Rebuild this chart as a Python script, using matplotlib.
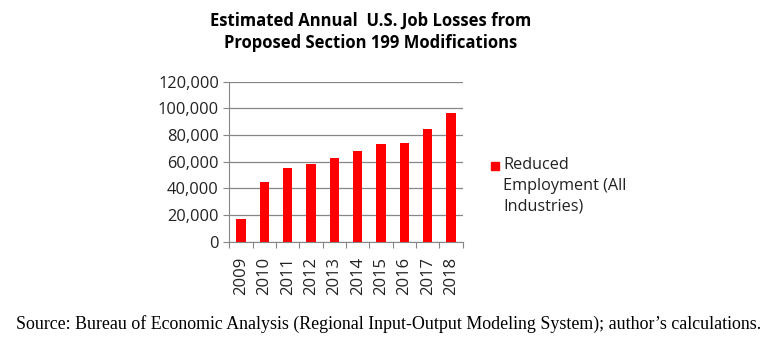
import matplotlib
matplotlib.use("Agg")
import matplotlib.pyplot as plt
from matplotlib.ticker import FuncFormatter, MultipleLocator

years = ["2009", "2010", "2011", "2012", "2013", "2014", "2015", "2016", "2017", "2018"]
job_losses = [17000, 44800, 55000, 58500, 63000, 68200, 73200, 74000, 84500, 96700]
series_name = "Reduced\nEmployment (All\nIndustries)"

fig = plt.figure(figsize=(7.78, 3.62), dpi=100)
ax = fig.add_axes([0.2947, 0.3323, 0.300, 0.442])

x = range(len(years))
ax.bar(x, job_losses, width=0.4, color="#ff0000", zorder=3)

ax.set_xlim(-0.5, len(years) - 0.5)
ax.set_ylim(0, 120000)
ax.yaxis.set_major_locator(MultipleLocator(20000))
ax.yaxis.set_major_formatter(FuncFormatter(lambda v, p: f"{int(v):,}"))
ax.grid(axis="y", color="#868686", linewidth=0.9, zorder=0)

# category ticks sit on the boundaries, labels in the middle
ax.set_xticks([i - 0.5 for i in range(len(years) + 1)])
ax.set_xticklabels([])
ax.set_xticks(list(x), minor=True)
ax.set_xticklabels(years, minor=True, rotation=90, fontsize=12,
                   family=["Open Sans", "DejaVu Sans"], color="#222222")
ax.tick_params(axis="x", which="major", length=4.5, color="#868686", direction="out")
ax.tick_params(axis="x", which="minor", length=0, pad=11)
ax.tick_params(axis="y", length=4, color="#868686", labelsize=11.8, labelcolor="#222222")
for lab in ax.get_yticklabels():
    lab.set_family(["Open Sans", "DejaVu Sans"])

for s in ["top", "right"]:
    ax.spines[s].set_visible(False)
for s in ["left", "bottom"]:
    ax.spines[s].set_color("#868686")

fig.text(0.476, 1 - 12 / 362, "Estimated Annual  U.S. Job Losses from\nProposed Section 199 Modifications",
         ha="center", va="top", fontsize=12, fontweight="bold",
         family=["Open Sans", "DejaVu Sans"], linespacing=1.3)

# legend
fig.patches.append(plt.Rectangle((491 / 778, 1 - 170 / 362), 8 / 778, 8 / 362,
                                 transform=fig.transFigure, color="#ff0000"))
fig.text(503 / 778, 1 - 157 / 362, series_name, ha="left", va="top", fontsize=11.7,
         family=["Open Sans", "DejaVu Sans"], linespacing=1.38, color="#222222")

fig.text(0.5, 1 - 324 / 362,
         "Source: Bureau of Economic Analysis (Regional Input-Output Modeling System); author\u2019s calculations.",
         ha="center", va="center", fontsize=12.9, family=["Liberation Serif", "DejaVu Serif"])

fig.savefig("out.png", dpi=100)
